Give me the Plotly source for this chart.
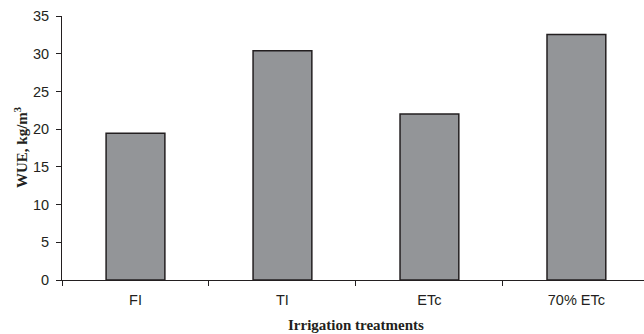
import plotly.graph_objects as go

# Water use efficiency by irrigation treatment
treatments = ["FI", "TI", "ETc", "70% ETc"]
wue = [19.45, 30.4, 22.0, 32.55]
y_ticks = [0, 5, 10, 15, 20, 25, 30, 35]

ink = "#231f20"
serif = "Liberation Serif, Times New Roman, serif"

fig = go.Figure(
    go.Bar(
        x=treatments,
        y=wue,
        width=0.4,
        marker=dict(color="#939598", line=dict(color=ink, width=1.5)),
    )
)

fig.update_layout(
    width=644,
    height=334,
    margin=dict(l=62, r=0, t=16, b=54),
    paper_bgcolor="white",
    plot_bgcolor="white",
    showlegend=False,
    font=dict(family="Liberation Sans, Arial, sans-serif", size=14.5, color=ink),
    xaxis=dict(
        range=[-0.5, 3.46],
        showline=True,
        linecolor=ink,
        linewidth=1,
        ticks="outside",
        tickson="boundaries",
        ticklen=5,
        tickcolor=ink,
        showgrid=False,
        zeroline=False,
        ticklabelstandoff=7,
    ),
    yaxis=dict(
        range=[0, 35],
        tickvals=y_ticks,
        showline=True,
        linecolor=ink,
        linewidth=1,
        ticks="outside",
        ticklen=5,
        tickcolor=ink,
        showgrid=False,
        zeroline=False,
        ticklabelstandoff=4,
    ),
    annotations=[
        dict(
            text="<b>Irrigation treatments</b>",
            xref="paper", yref="paper",
            x=0.505, y=-0.172,
            xanchor="center", yanchor="middle",
            showarrow=False,
            font=dict(family=serif, size=15, color=ink),
        ),
        dict(
            text="<b>WUE, kg/m<sup>3</sup></b>",
            xref="paper", yref="paper",
            x=-0.0704, y=0.5,
            xanchor="center", yanchor="middle",
            textangle=-90,
            showarrow=False,
            font=dict(family=serif, size=15, color=ink),
        ),
    ],
)

fig.write_html("out.html")
